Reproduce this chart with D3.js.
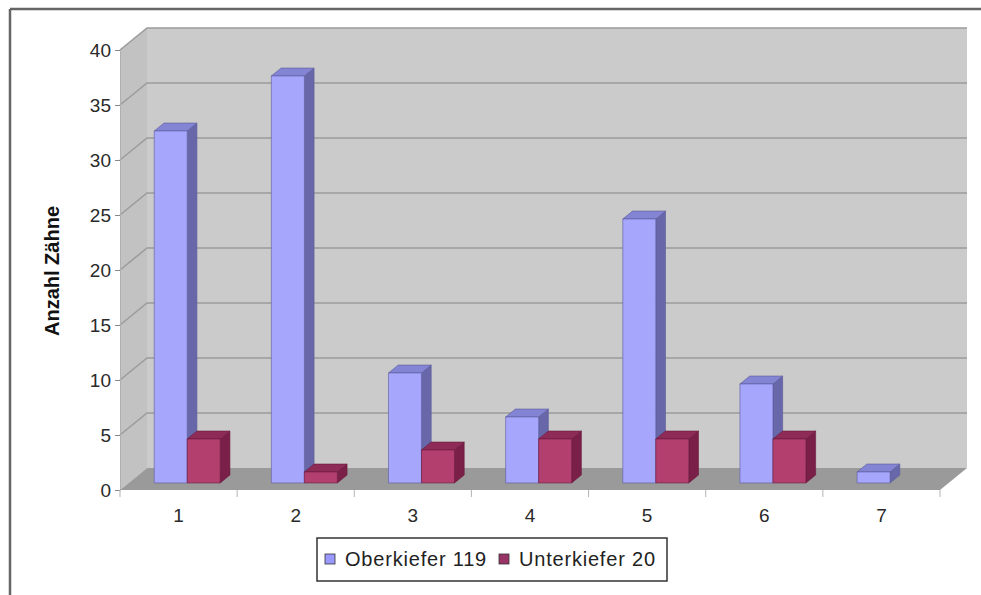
<!DOCTYPE html>
<html>
<head>
<meta charset="utf-8">
<script src="https://cdn.jsdelivr.net/npm/d3@7"></script>
<style>
  html, body { margin: 0; padding: 0; background: #fff; }
  svg { display: block; }
  text { font-family: "Liberation Sans", Arial, sans-serif; }
</style>
</head>
<body>
<svg id="chart" width="981" height="595"></svg>
<script>
// Zahngruppen und Anzahl betroffener Zähne je Kiefer
const categories = ["1", "2", "3", "4", "5", "6", "7"];
const series = ["Oberkiefer 119", "Unterkiefer 20"];
const oberkiefer = [32, 37, 10, 6, 24, 9, 1];
const unterkiefer = [4, 1, 3, 4, 4, 4, 0];
const yTicks = [0, 5, 10, 15, 20, 25, 30, 35, 40];
const yTitle = "Anzahl Zähne";

const values = [oberkiefer, unterkiefer];

const svg = d3.select("#chart");

// oblique 3D projection: full depth of the plot box
const DX = 27, DY = -22;
const barFront = 0.32, barBack = 0.68;

const x = d3.scaleBand().domain(categories).range([120, 940]);
const groupPad = 1 - 66 / (820 / categories.length);
x.paddingInner(groupPad).paddingOuter(groupPad / 2);
const xs = d3.scaleBand().domain(series).range([0, x.bandwidth()]);
const y = d3.scaleLinear().domain([0, 40]).range([490, 50]);

const palette = {
  "Oberkiefer 119": { front: "#a6a6fd", side: "#6767a9", top: "#8484d4", edge: "#5a5a9a", key: "#9999ff" },
  "Unterkiefer 20": { front: "#b33f6f", side: "#7a1f48", top: "#8e2b57", edge: "#6a1a3e", key: "#993366" }
};

// outer frame
svg.append("line").attr("x1", 10).attr("x2", 981).attr("y1", 9).attr("y2", 9)
  .attr("stroke", "#666").attr("stroke-width", 2.5);
svg.append("line").attr("x1", 10).attr("x2", 10).attr("y1", 9).attr("y2", 595)
  .attr("stroke", "#666").attr("stroke-width", 2.5);

const xL = x.range()[0], xR = x.range()[1];
const yB = y(0), yT = y(40);
const pt = (px, py) => px + "," + py;

// walls
svg.append("polygon")
  .attr("points", [pt(xL + DX, yT + DY), pt(xR + DX, yT + DY), pt(xR + DX, yB + DY), pt(xL + DX, yB + DY)].join(" "))
  .attr("fill", "#cbcbcb");
svg.append("polygon")
  .attr("points", [pt(xL, yT), pt(xL + DX, yT + DY), pt(xL + DX, yB + DY), pt(xL, yB)].join(" "))
  .attr("fill", "#c2c2c2");

// gridlines on back and side walls
const grid = svg.append("g").attr("stroke", "#9c9c9c").attr("stroke-width", 1.6).attr("fill", "none");
yTicks.filter(v => v > 0).forEach(v => {
  grid.append("polyline")
    .attr("points", [pt(xL, y(v)), pt(xL + DX, y(v) + DY), pt(xR + DX, y(v) + DY)].join(" "));
});

// floor
svg.append("polygon")
  .attr("points", [pt(xL, yB), pt(xL + DX, yB + DY), pt(xR + DX, yB + DY), pt(xR, yB)].join(" "))
  .attr("fill", "#9a9a9a");

// y axis
const yAxis = d3.axisLeft(y).tickValues(yTicks).tickSize(5).tickPadding(4);
const gy = svg.append("g").attr("transform", `translate(${xL},0)`).call(yAxis);
gy.select(".domain").attr("stroke", "#b0b0b0").attr("stroke-width", 1);
gy.selectAll(".tick line").attr("stroke", "#888");
gy.selectAll(".tick text").attr("font-size", 19).attr("fill", "#2a2a2a")
  .attr("font-family", "'Liberation Sans', Arial, sans-serif");

// x axis: labels at category centres, ticks at category boundaries
const xAxis = d3.axisBottom(x).tickSize(0).tickPadding(19);
const gx = svg.append("g").attr("transform", `translate(0,${yB})`).call(xAxis);
gx.select(".domain").remove();
gx.selectAll(".tick text").attr("font-size", 19).attr("fill", "#2a2a2a")
  .attr("font-family", "'Liberation Sans', Arial, sans-serif");
const step = x.step();
d3.range(categories.length + 1).forEach(i => {
  const bx = xL + i * step;
  svg.append("line").attr("x1", bx).attr("x2", bx).attr("y1", yB).attr("y2", yB + 7)
    .attr("stroke", "#b5b5b5").attr("stroke-width", 1);
});

// 3D columns
const bars = svg.append("g");
categories.forEach((c, ci) => {
  series.forEach((s, si) => {
    const v = values[si][ci];
    if (v <= 0) return;
    const col = palette[s];
    const x0 = x(c) + xs(s) + barFront * DX;
    const x1 = x0 + xs.bandwidth();
    const yb = y(0) + barFront * DY;
    const yt = y(v) + barFront * DY;
    const ddx = (barBack - barFront) * DX, ddy = (barBack - barFront) * DY;
    const g = bars.append("g").attr("stroke", col.edge).attr("stroke-width", 0.6).attr("stroke-linejoin", "round");
    // side face
    g.append("polygon").attr("fill", col.side)
      .attr("points", [pt(x1, yb), pt(x1 + ddx, yb + ddy), pt(x1 + ddx, yt + ddy), pt(x1, yt)].join(" "));
    // top face
    g.append("polygon").attr("fill", col.top)
      .attr("points", [pt(x0, yt), pt(x1, yt), pt(x1 + ddx, yt + ddy), pt(x0 + ddx, yt + ddy)].join(" "));
    // front face
    g.append("rect").attr("fill", col.front)
      .attr("x", x0).attr("y", yt).attr("width", x1 - x0).attr("height", yb - yt);
  });
});

// axis title
svg.append("text")
  .attr("transform", "translate(59,271) rotate(-90)")
  .attr("text-anchor", "middle")
  .attr("font-size", 20).attr("font-weight", "bold").attr("fill", "#111")
  .text(yTitle);

// legend
const lg = svg.append("g").attr("transform", "translate(317,538)");
lg.append("rect").attr("width", 350).attr("height", 43)
  .attr("fill", "#fff").attr("stroke", "#333").attr("stroke-width", 1.5);
const keyX = [8, 182];
series.forEach((s, i) => {
  lg.append("rect").attr("x", keyX[i]).attr("y", 16).attr("width", 10).attr("height", 10)
    .attr("fill", palette[s].key).attr("stroke", "#333").attr("stroke-width", 0.8);
  lg.append("text").attr("x", keyX[i] + 20).attr("y", 28)
    .attr("font-size", 20).attr("letter-spacing", 0.8).attr("fill", "#222").text(s);
});
</script>
</body>
</html>
